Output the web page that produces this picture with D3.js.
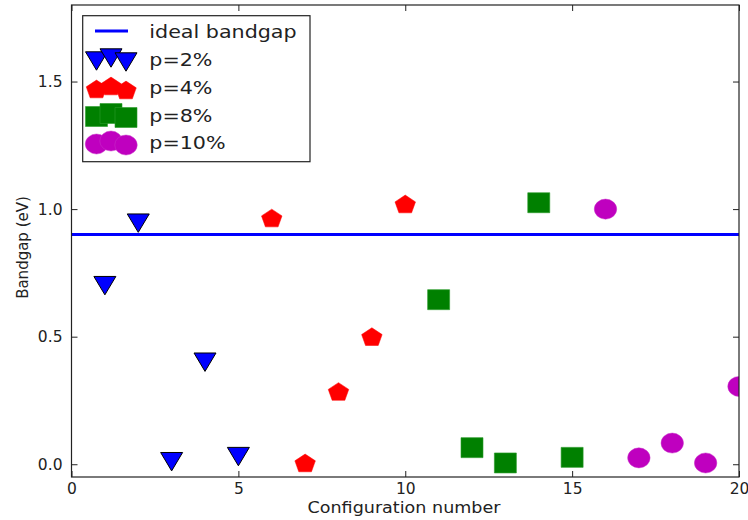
<!DOCTYPE html>
<html>
<head>
<meta charset="utf-8">
<script src="https://cdn.jsdelivr.net/npm/d3@7"></script>
<style>
  html, body { margin: 0; padding: 0; background: #fff; }
  svg { display: block; }
  text { font-family: "DejaVu Sans", sans-serif; fill: #222; }
</style>
</head>
<body>
<svg id="chart" width="748" height="520"></svg>
<script>
// Bandgap per configuration, grouped by doping percentage
const idealBandgap = 0.9;
const configsP2 = [1, 2, 3, 4, 5];
const gapsP2 = [0.70, 0.945, 0.01, 0.40, 0.03];
const configsP4 = [6, 7, 8, 9, 10];
const gapsP4 = [0.965, 0.005, 0.285, 0.50, 1.02];
const configsP8 = [11, 12, 13, 14, 15];
const gapsP8 = [0.645, 0.065, 0.005, 1.025, 0.027];
const configsP10 = [16, 17, 18, 19, 20];
const gapsP10 = [1.0, 0.025, 0.083, 0.005, 0.305];
const xTicks = [0, 5, 10, 15, 20];
const yTicks = [0.0, 0.5, 1.0, 1.5];
const seriesNames = ["p=2%", "p=4%", "p=8%", "p=10%"];

const svg = d3.select("#chart");
const plotLeft = 71.5, plotRight = 739, plotTop = 5, plotBottom = 477;

const x = d3.scaleLinear().domain([0, 20]).range([plotLeft, plotRight]);
const y = d3.scaleLinear().domain([-0.05, 1.8]).range([plotBottom, plotTop]);

// marker shapes, slightly wider than tall
const rx = 11, ry = 10;
function triDown(cx, cy) {
  return `M${cx - rx},${cy - ry * 0.92}L${cx + rx},${cy - ry * 0.92}L${cx},${cy + ry * 0.92}Z`;
}
function pentagon(cx, cy) {
  const pts = [];
  for (let i = 0; i < 5; i++) {
    const a = -Math.PI / 2 + i * 2 * Math.PI / 5;
    pts.push([cx + Math.cos(a) * rx * 0.98, cy + 0.9 + Math.sin(a) * ry * 0.98]);
  }
  return "M" + pts.map(p => p.join(",")).join("L") + "Z";
}
function square(cx, cy) {
  return `M${cx - rx},${cy - ry}h${2 * rx}v${2 * ry}h${-2 * rx}Z`;
}
function circle(cx, cy) {
  const r1 = rx * 1.02, r2 = ry;
  return `M${cx - r1},${cy}A${r1},${r2} 0 1,0 ${cx + r1},${cy}A${r1},${r2} 0 1,0 ${cx - r1},${cy}Z`;
}

const series = [
  { name: seriesNames[0], xs: configsP2, ys: gapsP2, shape: triDown, fill: "#0000ff", stroke: "#000", sw: 1 },
  { name: seriesNames[1], xs: configsP4, ys: gapsP4, shape: pentagon, fill: "#ff0000", stroke: "#ff0000", sw: 0.5 },
  { name: seriesNames[2], xs: configsP8, ys: gapsP8, shape: square, fill: "#008000", stroke: "#2a9a2a", sw: 0.6 },
  { name: seriesNames[3], xs: configsP10, ys: gapsP10, shape: circle, fill: "#bf00bf", stroke: "#c833c8", sw: 0.5 }
];

svg.append("defs").append("clipPath").attr("id", "plotClip")
  .append("rect").attr("x", plotLeft).attr("y", plotTop)
  .attr("width", plotRight - plotLeft).attr("height", plotBottom - plotTop);

const plot = svg.append("g").attr("clip-path", "url(#plotClip)");

// ideal bandgap reference line
plot.append("line")
  .attr("x1", x(0)).attr("x2", x(20))
  .attr("y1", y(idealBandgap)).attr("y2", y(idealBandgap))
  .attr("stroke", "#0000ff").attr("stroke-width", 3);

series.forEach(s => {
  plot.append("g").selectAll("path")
    .data(s.xs.map((v, i) => [v, s.ys[i]]))
    .join("path")
    .attr("d", d => s.shape(x(d[0]), y(d[1])))
    .attr("fill", s.fill)
    .attr("stroke", s.stroke)
    .attr("stroke-width", s.sw);
});

// axes with inward ticks on all four sides
const tickLen = 6;
const gx = svg.append("g").attr("transform", `translate(0,${plotBottom})`)
  .call(d3.axisBottom(x).tickValues(xTicks).tickFormat(d3.format("d")).tickSizeInner(-tickLen).tickSizeOuter(0).tickPadding(6));
const gxTop = svg.append("g").attr("transform", `translate(0,${plotTop})`)
  .call(d3.axisTop(x).tickValues(xTicks).tickFormat("").tickSizeInner(-tickLen).tickSizeOuter(0));
const gy = svg.append("g").attr("transform", `translate(${plotLeft},0)`)
  .call(d3.axisLeft(y).tickValues(yTicks).tickFormat(d3.format(".1f")).tickSizeInner(-tickLen).tickSizeOuter(0).tickPadding(9));
const gyRight = svg.append("g").attr("transform", `translate(${plotRight},0)`)
  .call(d3.axisRight(y).tickValues(yTicks).tickFormat("").tickSizeInner(-tickLen).tickSizeOuter(0));

[gx, gxTop, gy, gyRight].forEach(g => {
  g.select(".domain").remove();
  g.selectAll(".tick line").attr("stroke", "#222");
  g.selectAll(".tick text").attr("font-size", 15.5).attr("font-family", "DejaVu Sans, sans-serif").attr("fill", "#222");
});

svg.append("rect")
  .attr("x", plotLeft).attr("y", plotTop)
  .attr("width", plotRight - plotLeft).attr("height", plotBottom - plotTop)
  .attr("fill", "none").attr("stroke", "#222").attr("stroke-width", 1.2);

// axis titles
svg.append("text")
  .attr("x", 404).attr("y", 512.5)
  .attr("text-anchor", "middle").attr("font-size", 15)
  .attr("textLength", 193).attr("lengthAdjust", "spacingAndGlyphs")
  .text("Configuration number");
svg.append("text")
  .attr("transform", `translate(27.7,247.5) rotate(-90)`)
  .attr("text-anchor", "middle").attr("font-size", 15)
  .text("Bandgap (eV)");

// legend
const legend = svg.append("g");
legend.append("rect")
  .attr("x", 82.7).attr("y", 15.7).attr("width", 227.3).attr("height", 146)
  .attr("fill", "#fff").attr("stroke", "#222").attr("stroke-width", 1.2);
const rowY = [32, 60, 88, 115.5, 143];
const textX = 149.3;
const stretch = 1.18;
function legendText(yy, label) {
  const t = legend.append("text").attr("x", textX).attr("y", yy + 6)
    .attr("font-size", 17.5).text(label);
  const w = t.node().getComputedTextLength();
  t.attr("textLength", w * stretch).attr("lengthAdjust", "spacingAndGlyphs");
}
legend.append("line")
  .attr("x1", 95).attr("x2", 128).attr("y1", 31).attr("y2", 31)
  .attr("stroke", "#0000ff").attr("stroke-width", 3);
legendText(rowY[0], "ideal bandgap");
// three markers per entry at staggered heights
const legendMarkers = [[96.5, 1], [111, -2], [126, 2]];
series.forEach((s, i) => {
  const yy = rowY[i + 1];
  legend.append("g").selectAll("path")
    .data(legendMarkers)
    .join("path")
    .attr("d", m => s.shape(m[0], yy + m[1]))
    .attr("fill", s.fill)
    .attr("stroke", s.stroke)
    .attr("stroke-width", s.sw);
  legendText(yy, s.name);
});
</script>
</body>
</html>
